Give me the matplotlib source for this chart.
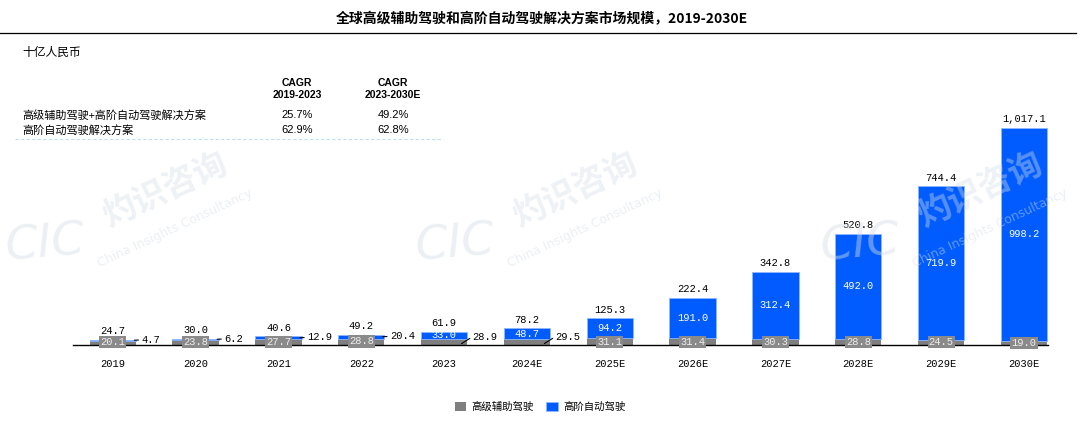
import matplotlib
matplotlib.use('Agg')
import matplotlib.pyplot as plt
import numpy as np

# 数据
years = ['2019', '2020', '2021', '2022', '2023', '2024E', '2025E',
         '2026E', '2027E', '2028E', '2029E', '2030E']
adas = [20.1, 23.8, 27.7, 28.8, 28.9, 29.5, 31.1, 31.4, 30.3, 28.8, 24.5, 19.0]
ad = [4.7, 6.2, 12.9, 20.4, 33.0, 48.7, 94.2, 191.0, 312.4, 492.0, 719.9, 998.2]
totals = [24.7, 30.0, 40.6, 49.2, 61.9, 78.2, 125.3, 222.4, 342.8, 520.8, 744.4, 1017.1]

cagr_rows = ['高级辅助驾驶+高阶自动驾驶解决方案', '高阶自动驾驶解决方案']
cagr_1923 = ['25.7%', '62.9%']
cagr_2330 = ['49.2%', '62.8%']

GRAY = '#7f7f7f'
BLUE = '#005cff'
CJK = ['Noto Sans CJK SC', 'DejaVu Sans']
NUM = 'Liberation Mono'

W, H = 1080, 434
fig = plt.figure(figsize=(W / 100, H / 100), dpi=100)


def fx(px):
    return px / W


def fy(py):
    return 1 - py / H


# 水印（淡色，画在最底层）
wm = '#d5dde6'
for cx in [45, 455, 860]:
    fig.text(fx(cx), fy(245), 'CIC', ha='center', va='center', fontsize=34,
             style='italic', color=wm, alpha=0.45, family='DejaVu Sans', rotation=5,
             zorder=0)
    fig.text(fx(cx + 120), fy(190), '灼识咨询', ha='center', va='center', fontsize=24,
             fontweight='bold', color=wm, alpha=0.4, family=CJK, rotation=25, zorder=0)
    fig.text(fx(cx + 130), fy(228), 'China Insights Consultancy', ha='center',
             va='center', fontsize=9, color=wm, alpha=0.45, family='DejaVu Sans',
             rotation=25, zorder=0)

# 标题与单位
fig.text(fx(542), fy(19), '全球高级辅助驾驶和高阶自动驾驶解决方案市场规模，2019-2030E',
         ha='center', va='center', fontsize=10, fontweight='bold', family=CJK)
fig.add_artist(plt.Line2D([fx(0), fx(1076)], [fy(33), fy(33)], color='black', lw=0.9))
fig.text(fx(22), fy(52), '十亿人民币', ha='left', va='center', fontsize=8.5, family=CJK)

# CAGR 表格
fig.text(fx(297), fy(89), 'CAGR\n2019-2023', ha='center', va='center', fontsize=7.5,
         fontweight='bold', family='Liberation Sans', linespacing=1.2)
fig.text(fx(393), fy(89), 'CAGR\n2023-2030E', ha='center', va='center', fontsize=7.5,
         fontweight='bold', family='Liberation Sans', linespacing=1.2)
for k, name in enumerate(cagr_rows):
    yy = fy(115 + k * 15)
    fig.text(fx(22), yy, name, ha='left', va='center', fontsize=8, family=CJK)
    fig.text(fx(297), yy, cagr_1923[k], ha='center', va='center', fontsize=8,
             family='Liberation Sans')
    fig.text(fx(393), yy, cagr_2330[k], ha='center', va='center', fontsize=8,
             family='Liberation Sans')
fig.add_artist(plt.Line2D([fx(15), fx(443)], [fy(139), fy(139)], color='#bfe0f2',
                          lw=0.8, ls=(0, (3, 2))))

# 柱状图
ax = fig.add_axes([fx(73), fy(345), fx(1048) - fx(73), fy(100) - fy(345)])
ax.patch.set_visible(False)
x = np.arange(len(years))
w = 0.56
ax.bar(x, adas, w, color=GRAY, label='高级辅助驾驶', zorder=2)
ax.bar(x, ad, w, bottom=adas, color=BLUE, edgecolor='#8fb8ff', linewidth=0.6,
       label='高阶自动驾驶', zorder=2)

ax.set_xlim(-0.48, 11.29)
ax.set_ylim(0, 1148)
for s in ['top', 'right', 'left']:
    ax.spines[s].set_visible(False)
ax.spines['bottom'].set_linewidth(1)
ax.spines['bottom'].set_zorder(3)
ax.set_yticks([])
ax.set_xticks(x)
ax.set_xticklabels(years, fontsize=7.5, family=NUM)
ax.tick_params(axis='x', length=0, pad=10)

for i in range(len(years)):
    # 总计
    ax.annotate(f'{totals[i]:,.1f}', (x[i], totals[i]), xytext=(0, 2.5),
                textcoords='offset points', ha='center', va='bottom',
                fontsize=7.5, family=NUM, annotation_clip=False)
    g_mid = adas[i] / 2
    b_mid = adas[i] + ad[i] / 2
    if i <= 3:
        ax.text(x[i], g_mid + 2, f'{adas[i]:.1f}', ha='center', va='center',
                fontsize=7.5, family=NUM, color='#eeeeee', zorder=4,
                bbox=dict(boxstyle='square,pad=0.1', fc='#8a8a8a', ec='none'))
        ax.annotate(f'{ad[i]:.1f}', (x[i] + w / 2 - 0.02, b_mid),
                    xytext=(5, 0.5), textcoords='offset points', ha='left',
                    va='center', fontsize=7.5, family=NUM, zorder=5,
                    arrowprops=dict(arrowstyle='-', color='black', lw=0.8,
                                    shrinkA=0, shrinkB=0))
    elif i <= 5:
        ax.text(x[i], b_mid, f'{ad[i]:.1f}', ha='center', va='center',
                fontsize=7.5, family=NUM, color='white', zorder=4)
        ax.annotate(f'{adas[i]:.1f}', (x[i] + w / 2 - 0.07, g_mid - 8),
                    xytext=(8, 5), textcoords='offset points', ha='left',
                    va='center', fontsize=7.5, family=NUM, zorder=5,
                    arrowprops=dict(arrowstyle='-', color='black', lw=0.8,
                                    shrinkA=0, shrinkB=0, relpos=(0, 0.5)))
    else:
        ax.text(x[i], b_mid, f'{ad[i]:.1f}', ha='center', va='center',
                fontsize=7.5, family=NUM, color='white', zorder=4)
        ax.text(x[i], g_mid, f'{adas[i]:.1f}', ha='center', va='center',
                fontsize=7.5, family=NUM, color='#eeeeee', zorder=4,
                bbox=dict(boxstyle='square,pad=0.1', fc='#8a8a8a', ec='none'))

# 图例
leg = fig.legend(loc='center', bbox_to_anchor=(fx(540), fy(407)), ncol=2,
                 frameon=False, prop={'family': CJK, 'size': 7.5},
                 handlelength=1.1, handleheight=0.9, handletextpad=0.5,
                 columnspacing=1.2)

fig.savefig('out.png', dpi=100)
plt.close(fig)
